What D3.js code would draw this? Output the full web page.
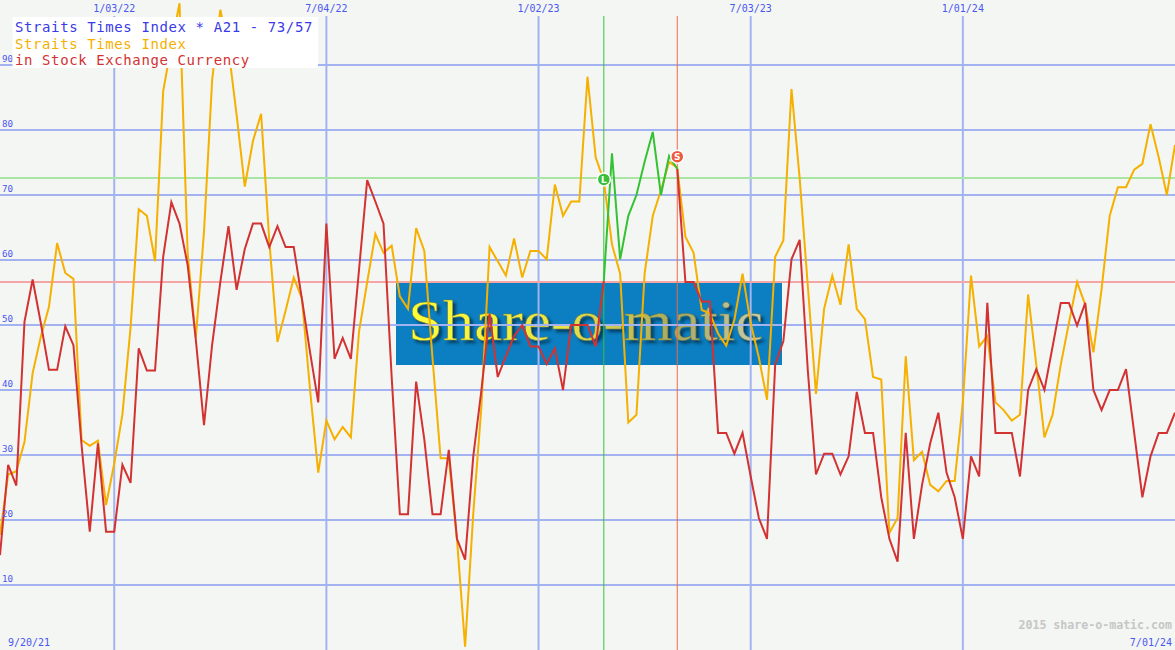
<!DOCTYPE html>
<html><head><meta charset="utf-8">
<script src="https://cdn.jsdelivr.net/npm/d3@7"></script>
<style>html,body{margin:0;padding:0;background:#f4f6f3;}svg{display:block;}</style>
</head><body>
<svg id="c" width="1175" height="650"></svg>
<script>
// ---- data ----
const firstWeek = "2021-09-27";
const lastWeek = "2024-07-01";
const redValues = [14.6,28.5,25.3,50.5,57,50.3,43.1,43.1,49.8,46.9,31.5,18.2,31.8,18.2,18.2,28.5,25.7,46.4,43,43,
60.5,68.9,65.6,59.2,47.7,34.6,47,56.6,65.2,55.4,61.7,65.6,65.6,62,65.2,62,62,54,45.8,38.1,
65.6,44.8,48,44.8,58.5,72.3,69,65.6,42,20.9,20.9,41.3,32.4,20.9,20.9,30.8,17.1,13.9,29.8,40,
51.7,42,45.2,48.3,50,46.7,46.7,44,46.4,40,50,50,50,46.7,56.8,76.4,60.1,66.8,70,75.1,
79.7,70,76,74,56.6,56.6,53.6,53.6,33.4,33.4,30.2,33.4,26.7,20.3,17.1,43.9,47.5,60.1,63.1,43,
27,30.2,30.2,27,29.8,39.7,33.4,33.4,23.5,17.1,13.6,33.4,17.1,25.4,31.8,36.5,27.3,23.5,17.1,29.8,
26.7,53.4,33.4,33.4,33.4,26.7,40,43.2,40,46.7,53.4,53.4,49.9,53.4,40,36.9,40,40,43.2,33.4,
23.5,29.8,33.4,33.4,36.5];
const orangeValues = [17.7,27,27.5,32,42.6,48.2,52.8,62.6,58,57.1,32.3,31.4,32.2,22.3,28.7,36.2,49.6,67.8,66.8,59.8,
86,93,99.5,61,48,64.3,87.7,98.5,92.5,82.3,71.3,78.3,82.5,63,47.4,52.2,57.3,54.1,40,27.3,
35.3,32.4,34.3,32.7,49,56.6,64,61.1,62.2,54.4,52.5,64.9,61.4,45,29.5,29.5,17.1,0.5,21,37.5,
62,59.8,57.6,63.3,57.3,61.4,61.4,60.1,71.6,66.8,69,69,88.2,75.8,72.2,62.4,57.9,35,36.2,57.9,
66.8,70.7,75.1,74.2,63.6,61.1,52.3,51.8,48.7,46.8,50.8,57.9,50.3,45,38.5,60.5,63,86.3,72.6,56,
39.4,52.5,57.6,53.1,62.4,52.5,50.9,42,41.6,18,20.3,45.2,29.2,30.5,25.4,24.4,26,26,38.1,57.6,
46.7,48.3,38.1,36.9,35.3,36.2,54.7,43.9,32.7,36.2,43.9,50.3,56.6,53.1,45.8,55.5,66.8,71.2,71.2,73.9,
74.8,80.9,75.8,70,77.7];
const holdStart = 74, holdEnd = 83;          // long position (green segment) by week index
const levels = [72.6, 56.6];                 // 73 / 57 thresholds
const markerValues = [72.4, 75.9];           // L, S marker levels
const markerLabels = ["L", "S"];
const yTicks = [10,20,30,40,50,60,70,80,90];
const xTickLabels = ["1/03/22","7/04/22","1/02/23","7/03/23","1/01/24"];
const legendLines = ["Straits Times Index * A21 - 73/57","Straits Times Index","in Stock Exchange Currency"];
const startLabel = "9/20/21", endLabel = "7/01/24", credit = "2015 share-o-matic.com";

// ---- setup ----
const W = 1175, H = 650;
const svg = d3.select("#c");
const parseISO = d3.timeParse("%Y-%m-%d");
const parseTick = d3.timeParse("%m/%d/%y");
const t0 = parseISO(firstWeek), t1 = parseISO(lastWeek);
const weeks = d3.timeMonday.range(t0, d3.timeDay.offset(t1, 1));
const x = d3.scaleTime().domain([t0, t1]).range([0, W]);
const y = d3.scaleLinear().domain([0, 100]).range([H, 0]);
const mono = "'DejaVu Sans Mono', 'Liberation Mono', monospace";

svg.append("rect").attr("width", W).attr("height", H).attr("fill", "#f4f6f3");

// ---- logo (under grid) ----
const defs = svg.append("defs");
const g1 = defs.append("linearGradient").attr("id","lg").attr("x1","0").attr("x2","1").attr("y1","0").attr("y2","0");
g1.append("stop").attr("offset","0").attr("stop-color","#ffff38");
g1.append("stop").attr("offset","0.45").attr("stop-color","#e6e24a");
g1.append("stop").attr("offset","0.75").attr("stop-color","#a8a860");
g1.append("stop").attr("offset","1").attr("stop-color","#c8ccb0");
const f = defs.append("filter").attr("id","shadow").attr("x","-10%").attr("y","-20%").attr("width","130%").attr("height","150%");
f.append("feDropShadow").attr("dx",3).attr("dy",3).attr("stdDeviation",1.5).attr("flood-color","#06304f").attr("flood-opacity",0.8);
const logo = svg.append("g");
logo.append("rect").attr("x",396).attr("y",283).attr("width",386).attr("height",82).attr("fill","#0b7fc1");
logo.append("text").attr("x",408).attr("y",340).attr("font-family","'Liberation Serif', 'DejaVu Serif', serif")
  .attr("font-size",57).attr("textLength",355).attr("lengthAdjust","spacingAndGlyphs")
  .attr("fill","url(#lg)").attr("stroke","#6a7a40").attr("stroke-width",0.5).attr("filter","url(#shadow)").text("Share-o-matic");

// ---- grid ----
svg.append("g").selectAll("line").data(yTicks).join("line")
  .attr("x1",0).attr("x2",W).attr("y1",d=>y(d)).attr("y2",d=>y(d))
  .attr("stroke","#a3b2f0").attr("stroke-width",2);
const xTicks = xTickLabels.map(parseTick);
svg.append("g").selectAll("line").data(xTicks).join("line")
  .attr("x1",d=>x(d)).attr("x2",d=>x(d)).attr("y1",16).attr("y2",H)
  .attr("stroke","#a3b2f0").attr("stroke-width",2);

// thresholds
svg.append("g").selectAll("line").data(levels).join("line")
  .attr("x1",0).attr("x2",W).attr("y1",d=>y(d)).attr("y2",d=>y(d))
  .attr("stroke",(d,i)=>i===0?"#a9e6a4":"#f4a6a6").attr("stroke-width",2);

// trade verticals
const tradeIdx = [holdStart, holdEnd];
svg.append("g").selectAll("line").data(tradeIdx).join("line")
  .attr("x1",d=>x(weeks[d])).attr("x2",d=>x(weeks[d])).attr("y1",16).attr("y2",H)
  .attr("stroke",(d,i)=>i===0?"#3cc03c":"#f06a48").attr("stroke-width",1);

// ---- series ----
const line = d3.line().x(d=>x(d.date)).y(d=>y(d.v));
const orange = orangeValues.map((v,i)=>({date:weeks[i], v}));
const red = redValues.map((v,i)=>({date:weeks[i], v, i}));
svg.append("path").datum(orange).attr("d",line).attr("fill","none").attr("stroke","#f5b000").attr("stroke-width",2);
svg.append("path").datum(red.filter(d=>d.i<=holdStart)).attr("d",line).attr("fill","none").attr("stroke","#d23232").attr("stroke-width",2);
svg.append("path").datum(red.filter(d=>d.i>=holdEnd)).attr("d",line).attr("fill","none").attr("stroke","#d23232").attr("stroke-width",2);
svg.append("path").datum(red.filter(d=>d.i>=holdStart && d.i<=holdEnd)).attr("d",line).attr("fill","none").attr("stroke","#34c234").attr("stroke-width",2);

// markers
const mk = svg.append("g").selectAll("g").data(tradeIdx).join("g")
  .attr("transform",(d,i)=>`translate(${x(weeks[d])},${y(markerValues[i])})`);
mk.append("circle").attr("r",6.5).attr("fill",(d,i)=>i===0?"#38c038":"#f05a3c").attr("stroke","#ffffff").attr("stroke-width",1.5);
mk.append("text").attr("text-anchor","middle").attr("y",3.5).attr("font-family","'DejaVu Sans', sans-serif")
  .attr("font-size",9).attr("font-weight","bold").attr("fill","#ffffff").text((d,i)=>markerLabels[i]);

// ---- axis labels ----
svg.append("g").selectAll("text").data(yTicks).join("text")
  .attr("x",2).attr("y",d=>y(d)-3.5).attr("font-family",mono).attr("font-size",9.2).attr("fill","#4a56f0")
  .text(d=>d);
svg.append("g").selectAll("text").data(xTicks).join("text")
  .attr("x",d=>x(d)).attr("y",12).attr("text-anchor","middle").attr("font-family",mono).attr("font-size",10)
  .attr("fill","#4a56f0").text((d,i)=>xTickLabels[i]);
svg.append("text").attr("x",8).attr("y",646).attr("font-family",mono).attr("font-size",10).attr("fill","#4a56f0").text(startLabel);
svg.append("text").attr("x",1172).attr("y",646).attr("text-anchor","end").attr("font-family",mono).attr("font-size",10).attr("fill","#4a56f0").text(endLabel);
svg.append("text").attr("x",1172).attr("y",629).attr("text-anchor","end").attr("font-family",mono).attr("font-size",11.6)
  .attr("font-weight","bold").attr("fill","#c6c6c6").text(credit);

// ---- legend ----
svg.append("rect").attr("x",12.5).attr("y",17).attr("width",305.5).attr("height",51).attr("fill","#ffffff");
const legColors = ["#3a3ae6","#f5b000","#d23232"];
svg.append("g").selectAll("text").data(legendLines).join("text")
  .attr("x",15).attr("y",(d,i)=>32+i*16.5).attr("font-family",mono).attr("font-size",14)
  .attr("letter-spacing","0.6px").attr("fill",(d,i)=>legColors[i]).text(d=>d);
</script>
</body></html>
